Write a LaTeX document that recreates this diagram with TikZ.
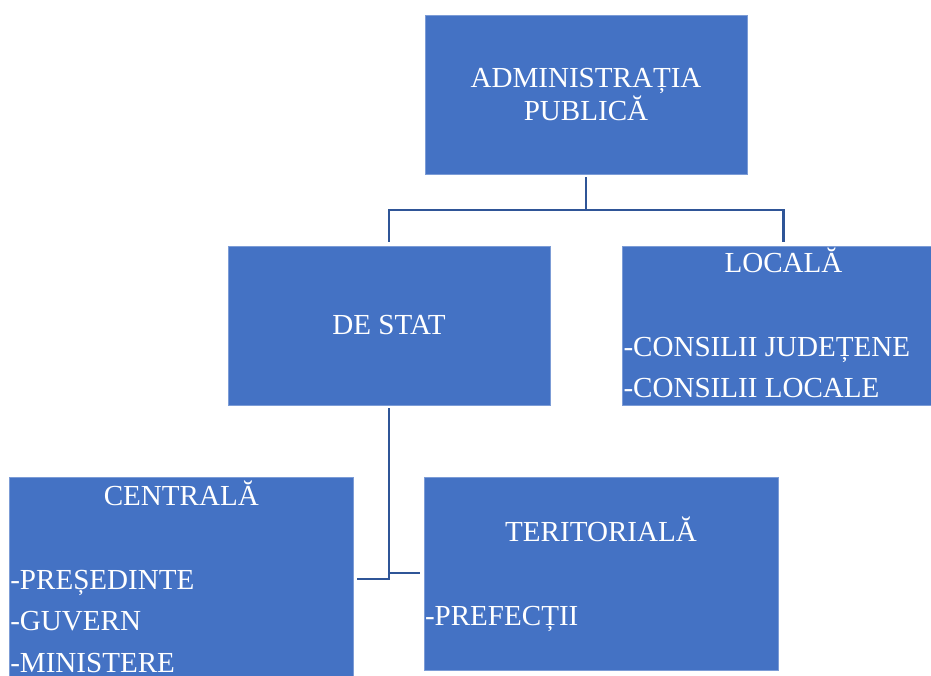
\documentclass[tikz,border=0pt]{standalone}
\usepackage{fontspec}
\setmainfont{Liberation Serif}
\usetikzlibrary{positioning,calc}
\definecolor{boxblue}{RGB}{68,114,196}
\definecolor{linkblue}{RGB}{47,85,151}

\begin{document}
\begin{tikzpicture}[x=0.75pt, y=-0.75pt, font=\fontsize{21.8}{21.8}\selectfont]
    \tikzstyle{box} = [rectangle, fill=boxblue, draw=boxblue!70!white, line width=0.4pt, inner sep=0pt, text=white, align=center]
    \tikzstyle{title} = [anchor=base, inner sep=0pt, text=white]
    \tikzstyle{item} = [anchor=base west, inner sep=0pt, text=white]
    \tikzstyle{link} = [line width=1.8pt, draw=linkblue, shorten <=2.25pt, shorten >=2.5pt]

    \useasboundingbox (0,0) rectangle (931,675);
    \clip (0,0) rectangle (931,675);

    % Level 1
    \node[box, minimum width=241.5pt, minimum height=119.25pt] (admin) at (586,94.5) {ADMINISTRAȚIA\\PUBLICĂ};

    % Level 2
    \node[box, minimum width=241.5pt, minimum height=119.25pt] (stat) at (389,325.5) {DE STAT};
    \node[box, minimum width=241.5pt, minimum height=119.25pt, right=54pt of stat] (local) {};
    \node[title] (localtitle) at ($(local.north)+(0,26.6)$) {LOCALĂ};
    \node[item] (judete) at ($(local.north west)+(1,111)$) {-CONSILII JUDEȚENE};
    \node[item] (consilii) at ($(local.north west)+(1,151.3)$) {-CONSILII LOCALE};

    % Level 3
    \node[box, minimum width=258pt, minimum height=159.75pt] (central) at (181.3,583.5) {};
    \node[title] (centraltitle) at ($(central.north)+(0,28.3)$) {CENTRALĂ};
    \node[item] (presedinte) at ($(central.north west)+(1,112.6)$) {-PREȘEDINTE};
    \node[item] (guvern) at ($(central.north west)+(1,153.3)$) {-GUVERN};
    \node[item] (ministere) at ($(central.north west)+(1,195.6)$) {-MINISTERE};

    \node[box, minimum width=265.5pt, minimum height=144.75pt] (terit) at (601,573.5) {};
    \node[title] (territitle) at ($(terit.north)+(0,64.3)$) {TERITORIALĂ};
    \node[item] (prefecti) at ($(terit.north west)+(1,149)$) {-PREFECȚII};

    % Connectors
    \coordinate (fork) at ($(admin.south)+(0,36)$);
    \draw[link, shorten >=0pt] (admin.south) -- (fork);
    \draw[link, shorten <=0pt] (fork) -| (stat.north);
    \draw[link, shorten <=0pt] (fork) -| (local.north);

    \coordinate (lowfork) at ($(stat.south)+(0,174)$);
    \coordinate (midfork) at ($(stat.south)+(0,168)$);
    \draw[link] (stat.south) -- (lowfork) -- (lowfork -| central.east);
    \draw[link, shorten <=0pt] (midfork) -- (midfork -| terit.west);
\end{tikzpicture}
\end{document}
